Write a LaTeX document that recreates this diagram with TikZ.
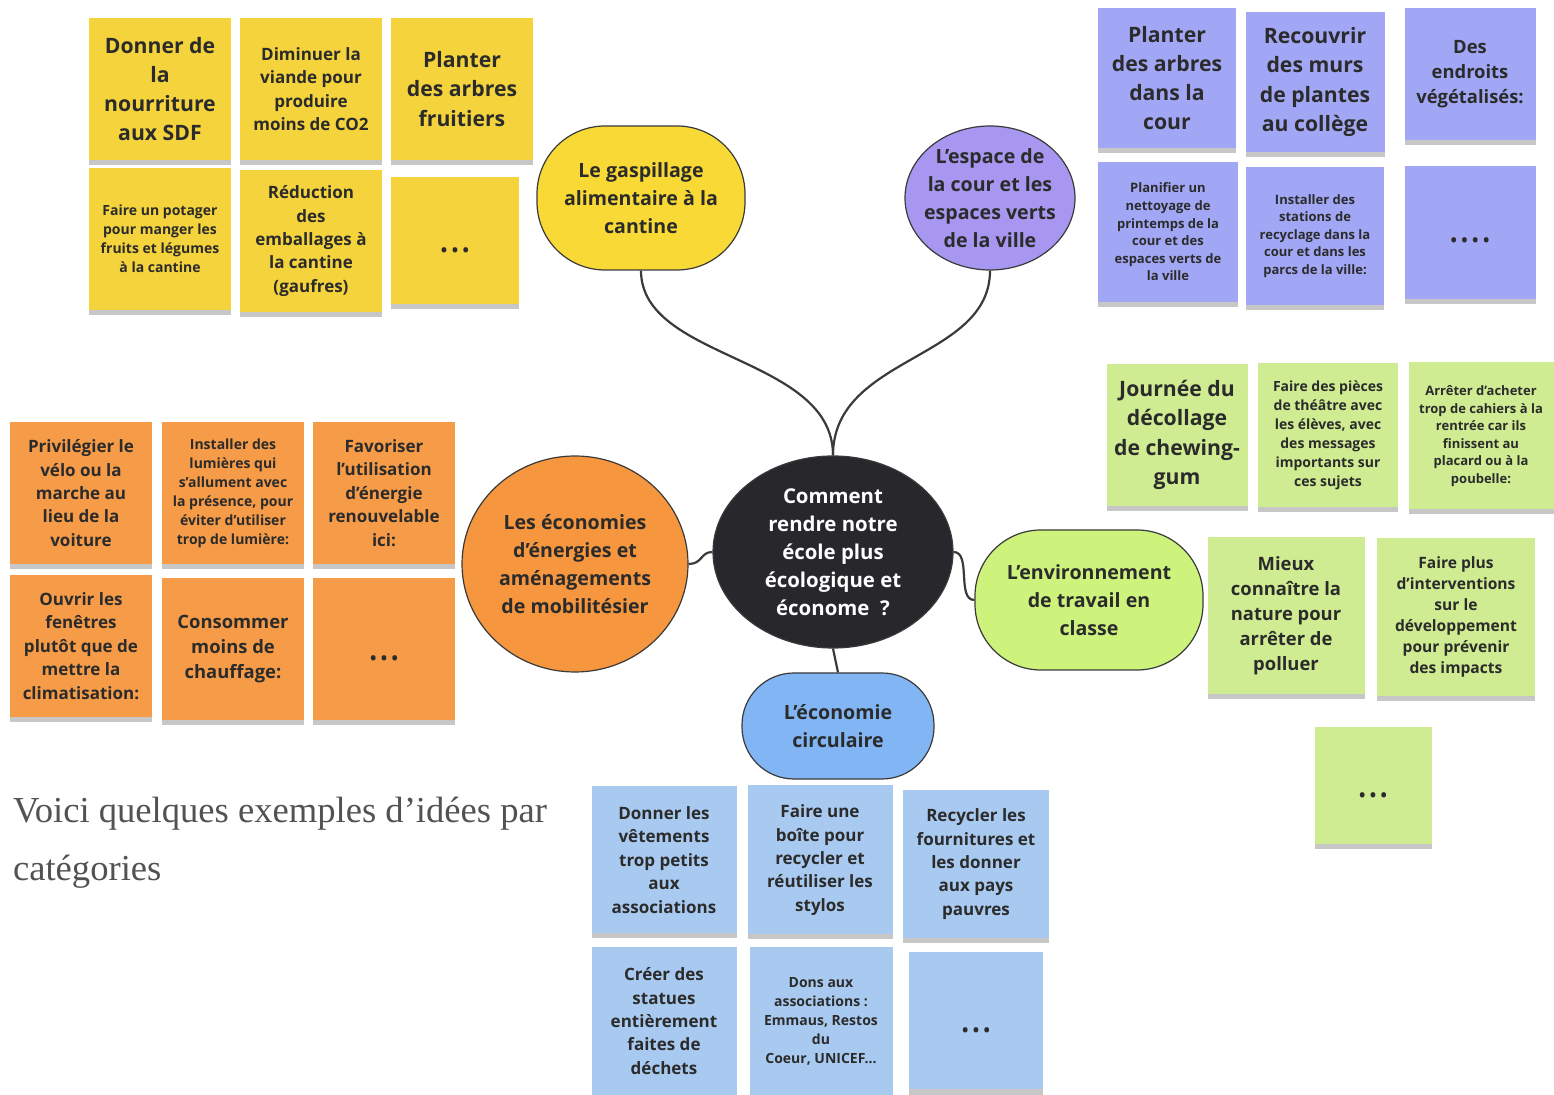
\documentclass[tikz,border=0pt]{standalone}
\usepackage{fontspec}
\setmainfont{Open Sans}
\newfontfamily\introfont{Liberation Serif}
\usetikzlibrary{shapes.geometric, shadows}

\definecolor{ink}{HTML}{2B2B2B}
\definecolor{edge}{HTML}{3A3A3A}
\definecolor{yel}{HTML}{F4D33C}
\definecolor{pur}{HTML}{A1A7F4}
\definecolor{ora}{HTML}{F69B47}
\definecolor{gre}{HTML}{CFEC92}
\definecolor{blu}{HTML}{A9CAF0}
\definecolor{catyel}{HTML}{F8D936}
\definecolor{catpur}{HTML}{A897F0}
\definecolor{catora}{HTML}{F6963F}
\definecolor{catgre}{HTML}{CDF37C}
\definecolor{catblu}{HTML}{82B5F4}
\definecolor{core}{HTML}{27272C}

\newcommand{\moredots}{\raisebox{-8pt}[0pt][0pt]{• • •}}

\begin{document}
\begin{tikzpicture}[x=0.5pt, y=-0.5pt,
  sticky/.style={fill=#1, text=ink, align=center, inner sep=1pt,
    minimum width=71pt, minimum height=71pt,
    drop shadow={shadow xshift=0pt, shadow yshift=-2.5pt, opacity=0.22, fill=black}},
  tbig/.style={font=\bfseries\fontsize{10.6}{14.6}\selectfont},
  tmed/.style={font=\bfseries\fontsize{9.2}{12.5}\selectfont},
  tmid/.style={font=\bfseries\fontsize{8.5}{11.7}\selectfont},
  tsmt/.style={font=\bfseries\fontsize{7.8}{10.5}\selectfont},
  tsml/.style={font=\bfseries\fontsize{7}{9.5}\selectfont},
  ttny/.style={font=\bfseries\fontsize{6.5}{8.8}\selectfont},
  topic/.style={fill=#1, draw=edge, line width=0.6pt, inner sep=0pt},
  label/.style={text=ink, font=\bfseries\fontsize{9.8}{14}\selectfont, align=center},
  link/.style={draw=edge, line width=1.1pt}]
  \useasboundingbox (0,0) rectangle (1554,1095);
  % yellow notes
  \node[sticky=yel, tbig] (y1) at (160,89) {Donner de\\la\\nourriture\\aux SDF};
  \node[sticky=yel, tmid] (y2) at (311,89) {Diminuer la\\viande pour\\produire\\moins de CO2};
  \node[sticky=yel, tbig] (y3) at (462,89) {Planter\\des arbres\\fruitiers};
  \node[sticky=yel, tsml] (y4) at (160,239) {Faire un potager\\pour manger les\\fruits et légumes\\à la cantine};
  \node[sticky=yel, tmid] (y5) at (311,241) {Réduction\\des\\emballages à\\la cantine\\(gaufres)};
  \node[sticky=yel, tmid, minimum width=64pt, minimum height=63.5pt] (y6) at (455,241) {\moredots};
  % purple notes
  \node[sticky=pur, tbig, minimum width=69pt, minimum height=70pt] (p1) at (1167,78) {Planter\\des arbres\\dans la\\cour};
  \node[sticky=pur, tbig, minimum width=69.5pt, minimum height=70pt] (p2) at (1315,82) {Recouvrir\\des murs\\de plantes\\au collège};
  \node[sticky=pur, tmed, minimum width=65.5pt, minimum height=66pt] (p3) at (1470,74) {Des\\endroits\\végétalisés:};
  \node[sticky=pur, ttny, minimum width=70pt, minimum height=70pt] (p4) at (1168,232) {Planifier un\\nettoyage de\\printemps de la\\cour et des\\espaces verts de\\la ville};
  \node[sticky=pur, ttny, minimum width=69pt, minimum height=69pt] (p5) at (1315,236) {Installer des\\stations de\\recyclage dans la\\cour et dans les\\parcs de la ville:};
  \node[sticky=pur, tmid, minimum width=65.5pt, minimum height=66.5pt] (p6) at (1470,233) {\raisebox{-7pt}[0pt][0pt]{• • • •}};
  % orange notes
  \node[sticky=ora, tmid] (o1) at (81,493) {Privilégier le\\vélo ou la\\marche au\\lieu de la\\voiture};
  \node[sticky=ora, tsml] (o2) at (233,493) {Installer des\\lumières qui\\s’allument avec\\la présence, pour\\éviter d’utiliser\\trop de lumière:};
  \node[sticky=ora, tmid] (o3) at (384,493) {Favoriser\\l'utilisation\\d'énergie\\renouvelable\\ici:};
  \node[sticky=ora, tmid] (o4) at (81,646) {Ouvrir les\\fenêtres\\plutôt que de\\mettre la\\climatisation:};
  \node[sticky=ora, tmed] (o5) at (233,649) {Consommer\\moins de\\chauffage:};
  \node[sticky=ora, tmid] (o6) at (384,649) {\moredots};
  % green notes
  \node[sticky=gre, tbig, minimum width=70.5pt] (g1) at (1177,435) {Journée du\\décollage\\de chewing-\\gum};
  \node[sticky=gre, tsml, minimum width=70pt, minimum height=72pt] (g2) at (1328,435) {Faire des pièces\\de théâtre avec\\les élèves, avec\\des messages\\importants sur\\ces sujets};
  \node[sticky=gre, ttny, minimum width=72.5pt, minimum height=73.5pt] (g3) at (1481,436) {Arrêter d'acheter\\trop de cahiers à la\\rentrée car ils\\finissent au\\placard ou à la\\poubelle:};
  \node[sticky=gre, tmed, minimum width=78.5pt, minimum height=78.5pt] (g4) at (1286,616) {Mieux\\connaître la\\nature pour\\arrêter de\\polluer};
  \node[sticky=gre, tsmt, minimum width=79pt, minimum height=79pt] (g5) at (1456,617) {Faire plus\\d'interventions\\sur le\\développement\\pour prévenir\\des impacts};
  \node[sticky=gre, tmid, minimum width=58.5pt, minimum height=58.5pt] (g6) at (1373,786) {\moredots};
  % blue notes
  \node[sticky=blu, tmid, minimum width=72.5pt, minimum height=73.5pt] (b1) at (664,860) {Donner les\\vêtements\\trop petits\\aux\\associations};
  \node[sticky=blu, tmid, minimum width=72.5pt, minimum height=74.5pt] (b2) at (820,860) {Faire une\\boîte pour\\recycler et\\réutiliser les\\stylos};
  \node[sticky=blu, tmid, minimum width=73pt, minimum height=74pt] (b3) at (976,864) {Recycler les\\fournitures et\\les donner\\aux pays\\pauvres};
  \node[sticky=blu, tmid, minimum width=72.5pt, minimum height=73.5pt] (b4) at (664,1021) {Créer des\\statues\\entièrement\\faites de\\déchets};
  \node[sticky=blu, tsml, minimum width=71.5pt, minimum height=73.5pt] (b5) at (821,1021) {Dons aux\\associations :\\Emmaus, Restos\\du\\Coeur, UNICEF...};
  \node[sticky=blu, tmid, minimum width=67pt, minimum height=68.5pt] (b6) at (976,1021) {\moredots};
  % topics
  \node[topic=catyel, rounded corners=34pt, minimum width=104pt, minimum height=72pt] (gaspi) at (641,198) {};
  \node[label] (gaspitxt) at (gaspi) {Le gaspillage\\alimentaire à la\\cantine};
  \node[topic=catpur, ellipse, minimum width=85pt, minimum height=72pt] (cour) at (990,198) {};
  \node[label] (courtxt) at (cour) {L’espace de\\la cour et les\\espaces verts\\de la ville};
  \node[topic=catora, ellipse, minimum width=113pt, minimum height=108pt] (eco) at (575,564) {};
  \node[label] (ecotxt) at (eco) {Les économies\\d’énergies et\\aménagements\\de mobilitésier};
  \node[topic=catgre, rounded corners=33pt, minimum width=114pt, minimum height=70pt] (envir) at (1089,600) {};
  \node[label] (envirtxt) at (envir) {L’environnement\\de travail en\\classe};
  \node[topic=catblu, rounded corners=26pt, minimum width=96pt, minimum height=53pt] (circ) at (838,726) {};
  \node[label] (circtxt) at (circ) {L’économie\\circulaire};
  % centre
  \node[topic=core, ellipse, minimum width=120pt, minimum height=96pt] (centre) at (833,552) {};
  \node[label, text=white, font=\bfseries\fontsize{10.2}{14}\selectfont] (centretxt) at (centre) {Comment\\rendre notre\\école plus\\écologique et\\économe\ \ ?};
  % branches
  \draw[link] (gaspi.south) .. controls +(0,90) and +(0,-100) .. (centre.north);
  \draw[link] (cour.south) .. controls +(0,90) and +(0,-100) .. (centre.north);
  \draw[link] (eco.east) .. controls +(14,0) and +(-12,0) .. (centre.west);
  \draw[link] (centre.east) .. controls +(18,0) and +(-18,0) .. (envir.west);
  \draw[link] (centre.south) -- (circ.north);
  % caption
  \node[anchor=north west, text=black!68, font=\introfont\fontsize{18.3}{29}\selectfont, align=left] (intro) at (6,790) {Voici quelques exemples d’idées par\\catégories};
\end{tikzpicture}
\end{document}
